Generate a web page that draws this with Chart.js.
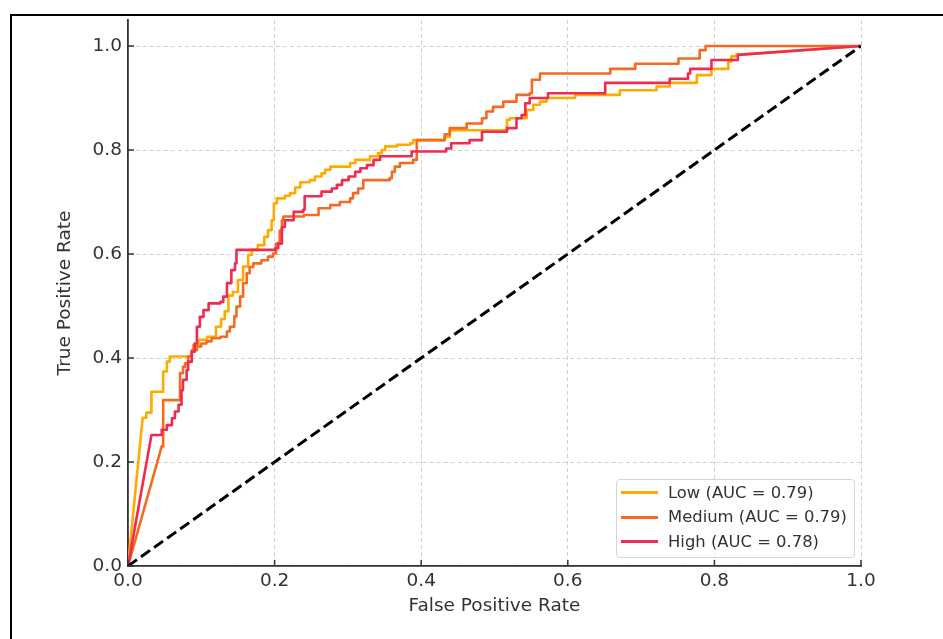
<!DOCTYPE html>
<html>
<head>
<meta charset="utf-8">
<script src="https://cdn.jsdelivr.net/npm/chart.js@4.4.1/dist/chart.umd.min.js"></script>
<style>
  html, body { margin: 0; padding: 0; background: #fff; overflow: hidden; }
  #wrap { position: relative; width: 943px; height: 639px; }
  #frame { position: absolute; left: 10px; top: 14px; width: 1000px; height: 700px; border: 2px solid #000; box-sizing: border-box; }
  #roc { position: absolute; left: 0; top: 0; }
  #legend { position: absolute; left: 616px; top: 479px; width: 239px; height: 79px; box-sizing: border-box;
            border: 1px solid #d4d4d4; border-radius: 4px; background: rgba(255,255,255,0.85);
            font-family: 'DejaVu Sans', sans-serif; font-size: 16.4px; color: #333; }
  .swatch { position: absolute; left: 4px; width: 37px; height: 3px; }
  .label { position: absolute; left: 51px; height: 24px; line-height: 24px; white-space: nowrap; }
</style>
</head>
<body>
<div id="wrap">
  <div id="frame"></div>
  <canvas id="roc" width="943" height="639"></canvas>
  <div id="legend"></div>
</div>
<script>
// Series
const seriesNames = ['Low', 'Medium', 'High'];
const aucValues = [0.79, 0.79, 0.78];
const seriesColors = ['#FFAA00', '#F26B21', '#EF2B52'];

const xTickValues = [0, 0.2, 0.4, 0.6, 0.8, 1.0];
const yTickValues = [0, 0.2, 0.4, 0.6, 0.8, 1.0];

// ROC vertices: fpr where each step happens, tpr after it
const lowFpr = [0.020, 0.025, 0.032, 0.048, 0.053, 0.057, 0.087, 0.089, 0.096, 0.108, 0.120, 0.127, 0.132, 0.137,
  0.143, 0.150, 0.157, 0.164, 0.169, 0.177, 0.186, 0.191, 0.196, 0.199, 0.203, 0.214, 0.221, 0.228, 0.235,
  0.248, 0.255, 0.264, 0.269, 0.276, 0.303, 0.310, 0.330, 0.341, 0.346, 0.351, 0.367, 0.385, 0.389, 0.432,
  0.439, 0.517, 0.521, 0.544, 0.553, 0.562, 0.571, 0.610, 0.671, 0.721, 0.739, 0.776, 0.796, 0.819, 0.823, 0.830];
const lowTpr = [0.285, 0.295, 0.335, 0.374, 0.393, 0.403, 0.413, 0.425, 0.435, 0.441, 0.460, 0.475, 0.490, 0.520,
  0.527, 0.550, 0.576, 0.598, 0.608, 0.617, 0.633, 0.646, 0.665, 0.697, 0.707, 0.712, 0.717, 0.728, 0.738,
  0.742, 0.749, 0.755, 0.762, 0.768, 0.775, 0.781, 0.788, 0.794, 0.800, 0.807, 0.810, 0.813, 0.819, 0.825,
  0.838, 0.858, 0.861, 0.877, 0.887, 0.893, 0.900, 0.906, 0.915, 0.922, 0.929, 0.944, 0.956, 0.970, 0.980, 0.983];

const medFpr = [0.046, 0.048, 0.071, 0.075, 0.078, 0.082, 0.087, 0.094, 0.100, 0.107, 0.114, 0.126, 0.135, 0.139,
  0.145, 0.148, 0.153, 0.157, 0.162, 0.166, 0.171, 0.182, 0.191, 0.198, 0.202, 0.207, 0.210, 0.212, 0.240,
  0.260, 0.276, 0.289, 0.303, 0.307, 0.314, 0.321, 0.357, 0.360, 0.364, 0.371, 0.389, 0.394, 0.432, 0.439,
  0.462, 0.483, 0.489, 0.498, 0.512, 0.530, 0.548, 0.551, 0.562, 0.658, 0.692, 0.751, 0.780, 0.788];
const medTpr = [0.230, 0.319, 0.371, 0.383, 0.390, 0.403, 0.415, 0.422, 0.428, 0.432, 0.438, 0.441, 0.451, 0.460,
  0.480, 0.499, 0.518, 0.544, 0.563, 0.575, 0.582, 0.588, 0.595, 0.601, 0.620, 0.645, 0.665, 0.672, 0.675,
  0.688, 0.694, 0.700, 0.707, 0.717, 0.726, 0.742, 0.746, 0.758, 0.768, 0.775, 0.781, 0.819, 0.830, 0.842,
  0.851, 0.861, 0.874, 0.883, 0.893, 0.906, 0.909, 0.935, 0.947, 0.956, 0.966, 0.976, 0.992, 1.000];

const highFpr = [0.032, 0.044, 0.046, 0.053, 0.060, 0.064, 0.069, 0.073, 0.075, 0.080, 0.082, 0.087, 0.091, 0.094,
  0.098, 0.103, 0.110, 0.126, 0.130, 0.135, 0.141, 0.146, 0.148, 0.201, 0.205, 0.210, 0.214, 0.226, 0.239,
  0.241, 0.264, 0.278, 0.285, 0.292, 0.301, 0.310, 0.317, 0.326, 0.335, 0.344, 0.387, 0.434, 0.441, 0.466,
  0.483, 0.517, 0.530, 0.537, 0.542, 0.548, 0.573, 0.651, 0.739, 0.764, 0.767, 0.796, 0.832];
const highTpr = [0.252, 0.252, 0.262, 0.271, 0.284, 0.297, 0.310, 0.338, 0.358, 0.377, 0.393, 0.412, 0.428, 0.460,
  0.479, 0.492, 0.505, 0.508, 0.518, 0.544, 0.569, 0.582, 0.608, 0.611, 0.620, 0.652, 0.665, 0.681, 0.685,
  0.711, 0.720, 0.726, 0.733, 0.742, 0.749, 0.758, 0.765, 0.771, 0.781, 0.788, 0.797, 0.803, 0.813, 0.819,
  0.835, 0.842, 0.861, 0.867, 0.890, 0.900, 0.909, 0.929, 0.937, 0.947, 0.956, 0.973, 0.983];

const chanceX = [0, 1];
const chanceY = [0, 1];

// turn step lists into the corner points of the curve, from (0,0) to (1,1)
function rocPoints(fpr, tpr) {
  const pts = [{ x: 0, y: 0 }, { x: fpr[0], y: tpr[0] }];
  for (let i = 1; i < fpr.length; i++) {
    pts.push({ x: fpr[i], y: tpr[i - 1] });
    pts.push({ x: fpr[i], y: tpr[i] });
  }
  pts.push({ x: 1, y: 1 });
  return pts;
}

const curves = [
  rocPoints(lowFpr, lowTpr),
  rocPoints(medFpr, medTpr),
  rocPoints(highFpr, highTpr)
];

const FONT = "'DejaVu Sans', sans-serif";
const TEXT = '#333';

// matplotlib style ticks pointing into the plot
const innerTicks = {
  id: 'innerTicks',
  afterDraw(chart) {
    const { ctx, chartArea, scales } = chart;
    ctx.save();
    ctx.strokeStyle = TEXT;
    ctx.lineWidth = 1.5;
    ctx.beginPath();
    xTickValues.forEach(v => {
      const px = scales.x.getPixelForValue(v);
      ctx.moveTo(px, chartArea.bottom);
      ctx.lineTo(px, chartArea.bottom - 6);
    });
    yTickValues.forEach(v => {
      const py = scales.y.getPixelForValue(v);
      ctx.moveTo(chartArea.left, py);
      ctx.lineTo(chartArea.left + 6, py);
    });
    ctx.stroke();
    ctx.restore();
  }
};

const axisCommon = {
  type: 'linear',
  grid: { color: '#d0d0d0', lineWidth: 1, drawTicks: false },
  border: { display: true, color: TEXT, width: 1.8, dash: [4, 3] }
};

const datasets = curves.map((pts, i) => ({
  label: `${seriesNames[i]} (AUC = ${aucValues[i].toFixed(2)})`,
  data: pts,
  borderColor: seriesColors[i],
  borderWidth: 2.6,
  pointRadius: 0,
  tension: 0,
  fill: false,
  borderJoinStyle: 'round',
  order: 3 - i
}));

datasets.push({
  label: 'chance',
  data: chanceX.map((x, i) => ({ x, y: chanceY[i] })),
  borderColor: '#000',
  borderWidth: 3,
  borderDash: [11, 5],
  pointRadius: 0,
  fill: false,
  order: 0
});

new Chart(document.getElementById('roc'), {
  type: 'line',
  data: { datasets },
  options: {
    responsive: false,
    animation: false,
    layout: { padding: { left: 0, top: 20, right: 82, bottom: 0 } },
    plugins: { legend: { display: false }, tooltip: { enabled: false } },
    scales: {
      x: {
        ...axisCommon,
        min: 0,
        max: 1,
        afterBuildTicks: s => { s.ticks = xTickValues.map(v => ({ value: v })); },
        afterFit: s => { s.height = 73; },
        ticks: { padding: 4, color: TEXT, autoSkip: false, maxRotation: 0,
                 font: { family: FONT, size: 18.5 }, callback: v => v.toFixed(1) },
        title: { display: true, text: 'False Positive Rate', color: TEXT,
                 font: { family: FONT, size: 18.5 }, padding: { top: 0, bottom: 22 } }
      },
      y: {
        ...axisCommon,
        min: 0,
        max: 1.05,
        afterBuildTicks: s => { s.ticks = yTickValues.map(v => ({ value: v })); },
        afterFit: s => { s.width = 128; },
        ticks: { padding: 6, color: TEXT, font: { family: FONT, size: 18.5 }, callback: v => v.toFixed(1) },
        title: { display: true, text: 'True Positive Rate', color: TEXT,
                 font: { family: FONT, size: 18.5 }, padding: { top: 54, bottom: 0 } }
      }
    }
  },
  plugins: [innerTicks]
});

// legend box in the lower right of the plot
const legend = document.getElementById('legend');
seriesNames.forEach((name, i) => {
  const center = 12.5 + 24.5 * i;
  const sw = document.createElement('div');
  sw.className = 'swatch';
  sw.style.top = (center - 1.5) + 'px';
  sw.style.background = seriesColors[i];
  const lab = document.createElement('div');
  lab.className = 'label';
  lab.style.top = (center - 12) + 'px';
  lab.textContent = `${name} (AUC = ${aucValues[i].toFixed(2)})`;
  legend.appendChild(sw);
  legend.appendChild(lab);
});
</script>
</body>
</html>
